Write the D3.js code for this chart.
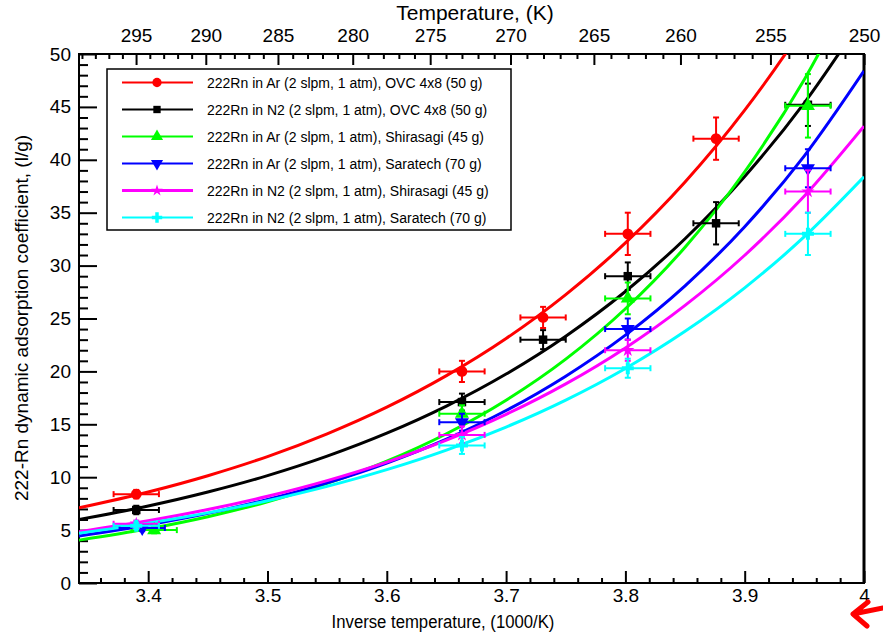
<!DOCTYPE html>
<html><head><meta charset="utf-8">
<script src="https://cdn.jsdelivr.net/npm/d3@7"></script>
<style>
html,body{margin:0;padding:0;background:#fff;}
svg{display:block;font-family:"Liberation Sans",Arial,sans-serif;}
</style></head>
<body>
<svg id="chart" width="883" height="635"></svg>
<script>
// ---------------- data ----------------
const legendLabels = [
  "222Rn in Ar (2 slpm, 1 atm), OVC 4x8 (50 g)",
  "222Rn in N2 (2 slpm, 1 atm), OVC 4x8 (50 g)",
  "222Rn in Ar (2 slpm, 1 atm), Shirasagi (45 g)",
  "222Rn in Ar (2 slpm, 1 atm), Saratech (70 g)",
  "222Rn in N2 (2 slpm, 1 atm), Shirasagi (45 g)",
  "222Rn in N2 (2 slpm, 1 atm), Saratech (70 g)"
];
const bottomTicks = [3.4, 3.5, 3.6, 3.7, 3.8, 3.9, 4.0];
const bottomTickLabels = ["3.4","3.5","3.6","3.7","3.8","3.9","4"];
const topTicksK = [295, 290, 285, 280, 275, 270, 265, 260, 255, 250];
const yTicks = [0, 5, 10, 15, 20, 25, 30, 35, 40, 45, 50];

// measured points (x = 1000/T, y = coefficient, e = y error)
const arOvcX = [3.390, 3.663, 3.731, 3.802, 3.876];
const arOvcY = [8.4, 20.0, 25.1, 33.0, 42.0];
const arOvcE = [0.4, 1.0, 1.0, 2.0, 2.0];
const n2OvcX = [3.390, 3.663, 3.731, 3.802, 3.876, 3.953];
const n2OvcY = [6.9, 17.1, 23.0, 29.0, 34.0, 45.2];
const n2OvcE = [0.4, 0.8, 0.9, 1.3, 2.0, 2.0];
const arShiX = [3.405, 3.663, 3.802, 3.953];
const arShiY = [5.0, 16.0, 26.9, 45.1];
const arShiE = [0.3, 0.8, 1.5, 3.0];
const arSarX = [3.395, 3.663, 3.802, 3.953];
const arSarY = [5.2, 15.2, 24.0, 39.2];
const arSarE = [0.3, 0.8, 1.0, 1.8];
const n2ShiX = [3.390, 3.663, 3.802, 3.953];
const n2ShiY = [5.6, 14.0, 22.0, 37.0];
const n2ShiE = [0.3, 0.8, 1.0, 2.0];
const n2SarX = [3.390, 3.663, 3.802, 3.953];
const n2SarY = [5.4, 13.0, 20.3, 33.0];
const n2SarE = [0.3, 0.8, 0.9, 2.0];
const xErrHalf = 0.019;

// fitted curves at these x positions
const curveX   = [3.342, 3.40, 3.45, 3.50, 3.55, 3.60, 3.65, 3.70, 3.75, 3.80, 3.85, 3.90, 3.95, 4.00];
const arOvcFit = [7.10, 8.60, 10.14, 11.95, 14.10, 16.62, 19.60, 23.11, 27.26, 32.14, 37.90, 44.69, 52.70, 62.15];
const n2OvcFit = [6.00, 7.28, 8.60, 10.15, 11.99, 14.16, 16.72, 19.75, 23.33, 27.55, 32.54, 38.43, 45.38, 53.60];
const arShiFit = [4.05, 5.12, 6.27, 7.68, 9.41, 11.52, 14.11, 17.28, 21.16, 25.92, 31.74, 38.87, 47.60, 58.30];
const arSarFit = [4.45, 5.49, 6.58, 7.89, 9.46, 11.34, 13.60, 16.30, 19.55, 23.43, 28.09, 33.68, 40.37, 48.40];
const n2ShiFit = [4.85, 5.88, 6.94, 8.20, 9.68, 11.43, 13.50, 15.94, 18.82, 22.22, 26.24, 30.98, 36.58, 43.18];
const n2SarFit = [4.70, 5.66, 6.63, 7.78, 9.13, 10.71, 12.56, 14.74, 17.29, 20.28, 23.79, 27.90, 32.73, 38.39];

// ---------------- styles ----------------
const colors = ["#ff0000", "#000000", "#00ff00", "#0000ff", "#ff00ff", "#00ffff"];
const symbols = [d3.symbolCircle, d3.symbolSquare, d3.symbolTriangle, "down", d3.symbolStar, d3.symbolCross];

const series = [
  {x: arOvcX, y: arOvcY, e: arOvcE, fit: arOvcFit},
  {x: n2OvcX, y: n2OvcY, e: n2OvcE, fit: n2OvcFit},
  {x: arShiX, y: arShiY, e: arShiE, fit: arShiFit},
  {x: arSarX, y: arSarY, e: arSarE, fit: arSarFit},
  {x: n2ShiX, y: n2ShiY, e: n2ShiE, fit: n2ShiFit},
  {x: n2SarX, y: n2SarY, e: n2SarE, fit: n2SarFit}
].map((s, i) => ({...s, color: colors[i], sym: symbols[i], label: legendLabels[i]}));

// ---------------- layout ----------------
const L = 79, R = 864, T = 54, B = 583;
const x = d3.scaleLinear().domain([3.342, 4.0]).range([L, R]);
const y = d3.scaleLinear().domain([0, 50]).range([B, T]);

const svg = d3.select("#chart");
svg.append("defs").append("clipPath").attr("id", "clip")
  .append("rect").attr("x", L).attr("y", T).attr("width", R - L).attr("height", B - T);

// frame
svg.append("rect").attr("x", L).attr("y", T).attr("width", R - L).attr("height", B - T)
  .attr("fill", "none").attr("stroke", "#000").attr("stroke-width", 2);
svg.append("line").attr("x1", R).attr("x2", R).attr("y1", T).attr("y2", B)
  .attr("stroke", "#000").attr("stroke-width", 3);

// bottom axis
const bottomMinor = d3.range(3.36, 4.0, 0.02).filter(v => Math.abs(v * 10 - Math.round(v * 10)) > 1e-6);
const xAxisB = d3.axisBottom(x).tickValues(bottomTicks).tickSize(-12).tickFormat((d, i) => bottomTickLabels[i]).tickPadding(6);
const gB = svg.append("g").attr("transform", `translate(0,${B})`).call(xAxisB);
const xAxisBm = d3.axisBottom(x).tickValues(bottomMinor).tickSize(-5).tickFormat("");
svg.append("g").attr("transform", `translate(0,${B})`).call(xAxisBm);

// top axis (temperature K -> 1000/T)
const topMinor = d3.range(251, 300, 1).filter(k => k % 5 !== 0);
const xAxisT = d3.axisTop(x).tickValues(topTicksK.map(k => 1000 / k)).tickSize(-11)
  .tickFormat((d, i) => String(topTicksK[i])).tickPadding(12);
const gT = svg.append("g").attr("transform", `translate(0,${T})`).call(xAxisT);
const xAxisTm = d3.axisTop(x).tickValues(topMinor.map(k => 1000 / k).filter(v => v >= 3.342)).tickSize(-5).tickFormat("");
svg.append("g").attr("transform", `translate(0,${T})`).call(xAxisTm);

// left axis
const yAxis = d3.axisLeft(y).tickValues(yTicks).tickSize(-18).tickPadding(8).tickFormat(d3.format("d"));
const gL = svg.append("g").attr("transform", `translate(${L},0)`).call(yAxis);
const yAxisM = d3.axisLeft(y).tickValues(d3.range(1, 50).filter(v => v % 5 !== 0)).tickSize(-9).tickFormat("");
svg.append("g").attr("transform", `translate(${L},0)`).call(yAxisM);

svg.selectAll(".domain").remove();
svg.selectAll(".tick line").attr("stroke", "#000").attr("stroke-width", 2);
gB.selectAll(".tick text").attr("font-size", 19).attr("fill", "#000");
gT.selectAll(".tick text").attr("font-size", 19).attr("fill", "#000");
gL.selectAll(".tick text").attr("font-size", 19).attr("fill", "#000");

// titles
svg.append("text").attr("transform", "translate(443,628) scale(0.88,1)").attr("text-anchor", "middle")
  .attr("font-size", 19).text("Inverse temperature, (1000/K)");
svg.append("text").attr("x", 475).attr("y", 20).attr("text-anchor", "middle")
  .attr("font-size", 21).text("Temperature, (K)");
svg.append("text").attr("transform", "translate(28,318) rotate(-90)").attr("text-anchor", "middle")
  .attr("font-size", 19).text("222-Rn dynamic adsorption coefficient, (l/g)");

// curves
const line = d3.line().x(d => x(d[0])).y(d => y(d[1])).curve(d3.curveMonotoneX);
const plot = svg.append("g").attr("clip-path", "url(#clip)");
series.forEach(s => {
  plot.append("path").datum(curveX.map((v, i) => [v, s.fit[i]]))
    .attr("d", line).attr("fill", "none").attr("stroke", s.color).attr("stroke-width", 3);
});

function symPath(sym, size) {
  if (sym === "down") return d3.symbol().type(d3.symbolTriangle).size(size)();
  return d3.symbol().type(sym).size(size)();
}
const symSize = [90, 72, 85, 85, 55, 80];

// error bars + points
series.forEach((s, si) => {
  const g = plot.append("g");
  s.x.forEach((xv, i) => {
    const cx = x(xv), cy = y(s.y[i]);
    const x0 = x(xv - xErrHalf), x1 = x(xv + xErrHalf);
    const y0 = y(s.y[i] - s.e[i]), y1 = y(s.y[i] + s.e[i]);
    g.append("line").attr("x1", x0).attr("x2", x1).attr("y1", cy).attr("y2", cy)
      .attr("stroke", s.color).attr("stroke-width", 2);
    g.append("line").attr("x1", cx).attr("x2", cx).attr("y1", y0).attr("y2", y1)
      .attr("stroke", s.color).attr("stroke-width", 2);
    [x0, x1].forEach(xx => g.append("line").attr("x1", xx).attr("x2", xx).attr("y1", cy - 3).attr("y2", cy + 3)
      .attr("stroke", s.color).attr("stroke-width", 2));
    [y0, y1].forEach(yy => g.append("line").attr("x1", cx - 3).attr("x2", cx + 3).attr("y1", yy).attr("y2", yy)
      .attr("stroke", s.color).attr("stroke-width", 2));
    g.append("path").attr("d", symPath(s.sym, symSize[si]))
      .attr("transform", `translate(${cx},${cy})` + (s.sym === "down" ? " rotate(180)" : ""))
      .attr("fill", s.color);
  });
});

// legend
const lg = svg.append("g");
lg.append("rect").attr("x", 107).attr("y", 69).attr("width", 404).attr("height", 161)
  .attr("fill", "#fff").attr("stroke", "#000").attr("stroke-width", 1.5);
const legY = d3.scaleLinear().domain([0, 5]).range([82.5, 217.5]);
series.forEach((s, i) => {
  const yy = legY(i);
  lg.append("line").attr("x1", 122).attr("x2", 193).attr("y1", yy).attr("y2", yy)
    .attr("stroke", s.color).attr("stroke-width", i === 4 ? 3 : 2);
  lg.append("path").attr("d", symPath(s.sym, symSize[i] * 0.75))
    .attr("transform", `translate(157,${yy})` + (s.sym === "down" ? " rotate(180)" : ""))
    .attr("fill", s.color);
  lg.append("text").attr("x", 207).attr("y", yy + 5).attr("font-size", 14).attr("fill", "#000")
    .text(s.label);
});

// red arrow annotation
svg.append("path").attr("d", "M883,608 L853,614 M868,602 L853,614 L867,626")
  .attr("fill", "none").attr("stroke", "#ff0000").attr("stroke-width", 5)
  .attr("stroke-linecap", "round").attr("stroke-linejoin", "round");
</script>
</body></html>
